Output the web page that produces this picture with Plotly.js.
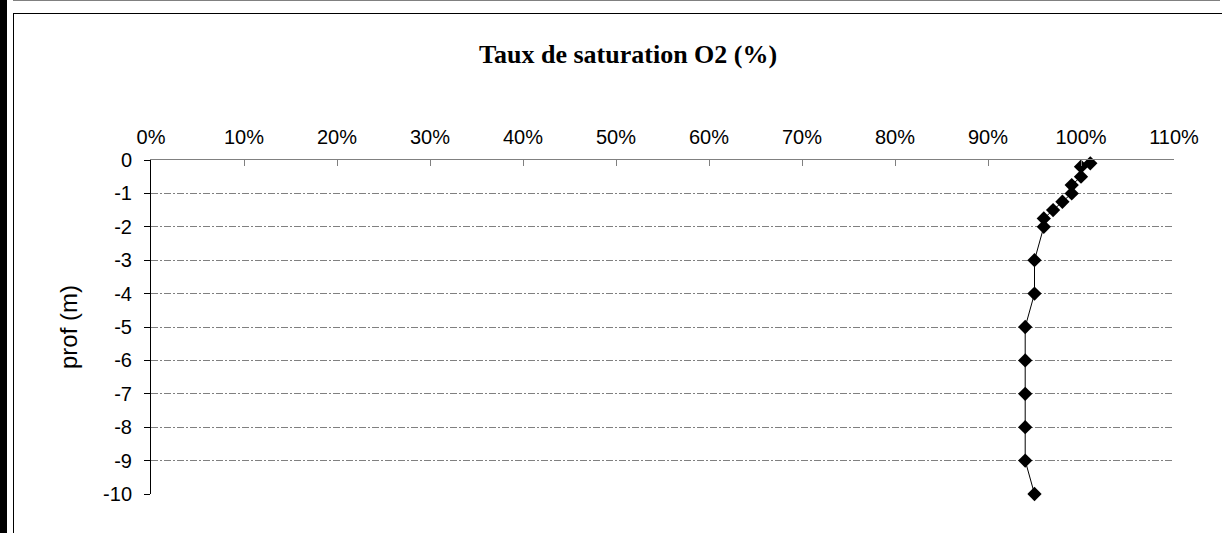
<!DOCTYPE html>
<html>
<head>
<meta charset="utf-8">
<script src="https://cdn.plot.ly/plotly-3.0.1.min.js"></script>
<style>
  html, body { margin: 0; padding: 0; background: #fff; }
  #wrap { position: relative; width: 1222px; height: 533px; overflow: hidden; }
  #chart { position: absolute; left: 0; top: 0; width: 1222px; height: 533px; }
  .deco { position: absolute; pointer-events: none; }
</style>
</head>
<body>
<div id="wrap">
  <div id="chart"></div>
  <div class="deco" style="left:0;top:0;width:7px;height:533px;background:#000;"></div>
  <div class="deco" style="left:13px;top:0;width:1207px;height:1px;background:#808080;"></div>
  <div class="deco" style="left:13px;top:13px;width:1209px;height:520px;border-left:1px solid #000;border-top:1px solid #000;box-sizing:border-box;"></div>
</div>
<script>
// Saturation O2 (fraction) vs depth (m)
const depth = [-0.1, -0.2, -0.5, -0.75, -1, -1.25, -1.5, -1.75, -2, -3, -4, -5, -6, -7, -8, -9, -10];
const saturation = [1.01, 1.00, 1.00, 0.99, 0.99, 0.98, 0.97, 0.96, 0.96, 0.95, 0.95, 0.94, 0.94, 0.94, 0.94, 0.94, 0.95];
const xTickVals = [0, 0.1, 0.2, 0.3, 0.4, 0.5, 0.6, 0.7, 0.8, 0.9, 1.0, 1.1];
const xTickText = ['0%', '10%', '20%', '30%', '40%', '50%', '60%', '70%', '80%', '90%', '100%', '110%'];
const yTickVals = [0, -1, -2, -3, -4, -5, -6, -7, -8, -9, -10];
const yTickText = ['0', '-1', '-2', '-3', '-4', '-5', '-6', '-7', '-8', '-9', '-10'];

const trace = {
  x: saturation,
  y: depth,
  type: 'scatter',
  mode: 'lines+markers',
  line: { color: '#000', width: 1 },
  marker: { symbol: 'diamond', size: 11, color: '#000' },
  cliponaxis: false,
  hoverinfo: 'x+y'
};

const layout = {
  width: 1222,
  height: 533,
  margin: { l: 151, r: 48, t: 160, b: 39 },
  paper_bgcolor: '#fff',
  plot_bgcolor: '#fff',
  showlegend: false,
  font: { family: 'Arial, "Liberation Sans", sans-serif', size: 20, color: '#000' },
  title: {
    text: '<b>Taux de saturation O2 (%)</b>',
    font: { family: '"Times New Roman", "Liberation Serif", serif', size: 26, color: '#000' },
    x: 0.514, xref: 'container', xanchor: 'center',
    y: 0.898, yref: 'container', yanchor: 'middle'
  },
  xaxis: {
    side: 'top',
    range: [0, 1.1],
    tickvals: xTickVals,
    ticktext: xTickText,
    ticks: 'inside',
    ticklen: 6,
    tickcolor: '#808080',
    showline: true,
    linecolor: '#808080',
    linewidth: 1,
    showgrid: false,
    zeroline: false,
    tickfont: { size: 20 },
    ticklabelstandoff: 7,
    fixedrange: true
  },
  yaxis: {
    range: [-10, 0],
    tickvals: yTickVals,
    ticktext: yTickText,
    ticks: 'outside',
    ticklen: 6,
    tickcolor: '#000',
    showline: true,
    linecolor: '#000',
    linewidth: 1,
    showgrid: true,
    gridcolor: '#808080',
    gridwidth: 1,
    griddash: '7px,2px,2px,2px',
    zeroline: false,
    tickfont: { size: 20 },
    ticklabelstandoff: 8,
    automargin: false,
    title: { text: 'prof (m)', font: { size: 24 }, standoff: 18 },
    fixedrange: true
  }
};

Plotly.newPlot('chart', [trace], layout, { displayModeBar: false, staticPlot: true });
</script>
</body>
</html>
